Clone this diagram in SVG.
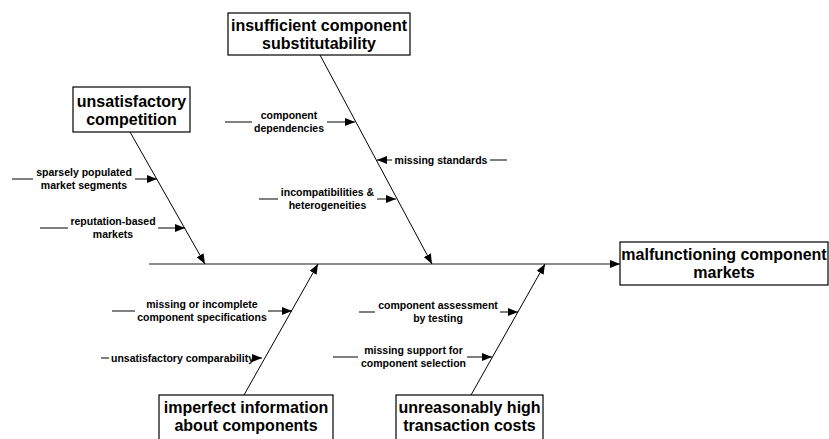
<svg xmlns="http://www.w3.org/2000/svg" width="829" height="439" viewBox="0 0 829 439">
<style>
.box{fill:#fff;stroke:#000;stroke-width:1.2}
.bt{font-family:"Liberation Sans",Arial,sans-serif;font-weight:bold;font-size:16px;text-anchor:middle;fill:#000}
.st{font-family:"Liberation Sans",Arial,sans-serif;font-weight:bold;font-size:10.5px;text-anchor:middle;fill:#000}
.ln{stroke:#000;stroke-width:1;fill:none}
.ar{stroke:#000;stroke-width:1;fill:none;marker-end:url(#ah)}
.spine{stroke:#666;stroke-width:1.6;fill:none;marker-end:url(#ah)}
</style>
<defs>
<marker id="ah" markerUnits="userSpaceOnUse" markerWidth="10" markerHeight="8" viewBox="0 0 10 8" refX="10" refY="4" orient="auto">
<path d="M0,0 L10,4 L0,8 Z" fill="#000"/>
</marker>
</defs>
<g id="connectors">
<line class="spine" x1="149" y1="264" x2="620" y2="264"/>
<line class="ar" x1="130" y1="132" x2="205" y2="264"/>
<line class="ar" x1="320" y1="55" x2="432" y2="264"/>
<line class="ar" x1="244" y1="395" x2="318" y2="264"/>
<line class="ar" x1="471" y1="395" x2="545" y2="264"/>
<line class="ln" x1="12" y1="179" x2="33" y2="179"/>
<line class="ar" x1="135" y1="179" x2="157" y2="179"/>
<line class="ln" x1="40" y1="228" x2="68" y2="228"/>
<line class="ar" x1="158" y1="228" x2="185" y2="228"/>
<line class="ln" x1="225" y1="122" x2="252" y2="122"/>
<line class="ar" x1="327" y1="122" x2="355" y2="122"/>
<line class="ar" x1="392" y1="160" x2="377" y2="160"/>
<line class="ln" x1="490" y1="160" x2="507" y2="160"/>
<line class="ln" x1="259" y1="199" x2="278" y2="199"/>
<line class="ar" x1="377" y1="199" x2="396" y2="199"/>
<line class="ln" x1="112" y1="311" x2="135" y2="311"/>
<line class="ar" x1="268" y1="311" x2="292" y2="311"/>
<line class="ln" x1="101" y1="358" x2="109" y2="358"/>
<line class="ar" x1="255" y1="358" x2="262" y2="358"/>
<line class="ln" x1="359" y1="312" x2="375" y2="312"/>
<line class="ar" x1="500" y1="312" x2="518" y2="312"/>
<line class="ln" x1="333" y1="357" x2="358" y2="357"/>
<line class="ar" x1="467" y1="357" x2="492" y2="357"/>
</g>
<g id="labels">
<text class="st" x="84" y="176">sparsely populated</text>
<text class="st" x="84" y="189">market segments</text>
<text class="st" x="113" y="225">reputation-based</text>
<text class="st" x="113" y="238">markets</text>
<text class="st" x="289" y="119">component</text>
<text class="st" x="289" y="132">dependencies</text>
<text class="st" x="441" y="164">missing standards</text>
<text class="st" x="327.5" y="196">incompatibilities &amp;</text>
<text class="st" x="327.5" y="209">heterogeneities</text>
<text class="st" x="202" y="308">missing or incomplete</text>
<text class="st" x="202" y="321">component specifications</text>
<text class="st" x="182.5" y="362">unsatisfactory comparability</text>
<text class="st" x="438" y="309">component assessment</text>
<text class="st" x="438" y="322">by testing</text>
<text class="st" x="413.5" y="354">missing support for</text>
<text class="st" x="413.5" y="367">component selection</text>
</g>
<g id="competition">
<rect class="box" x="73" y="87" width="117" height="45"/>
<text class="bt" x="131.5" y="107">unsatisfactory</text>
<text class="bt" x="131.5" y="125">competition</text>
</g>
<g id="substitutability">
<rect class="box" x="228" y="13" width="182" height="42"/>
<text class="bt" x="319" y="31">insufficient component</text>
<text class="bt" x="319" y="49">substitutability</text>
</g>
<g id="malfunctioning">
<rect class="box" x="620" y="242" width="208" height="43"/>
<text class="bt" x="724" y="259.5">malfunctioning component</text>
<text class="bt" x="724" y="277.5">markets</text>
</g>
<g id="information">
<rect class="box" x="159" y="395" width="174" height="48"/>
<text class="bt" x="246" y="413">imperfect information</text>
<text class="bt" x="246" y="431">about components</text>
</g>
<g id="transaction">
<rect class="box" x="396" y="395" width="147" height="48"/>
<text class="bt" x="469.5" y="413">unreasonably high</text>
<text class="bt" x="469.5" y="431">transaction costs</text>
</g>
</svg>
